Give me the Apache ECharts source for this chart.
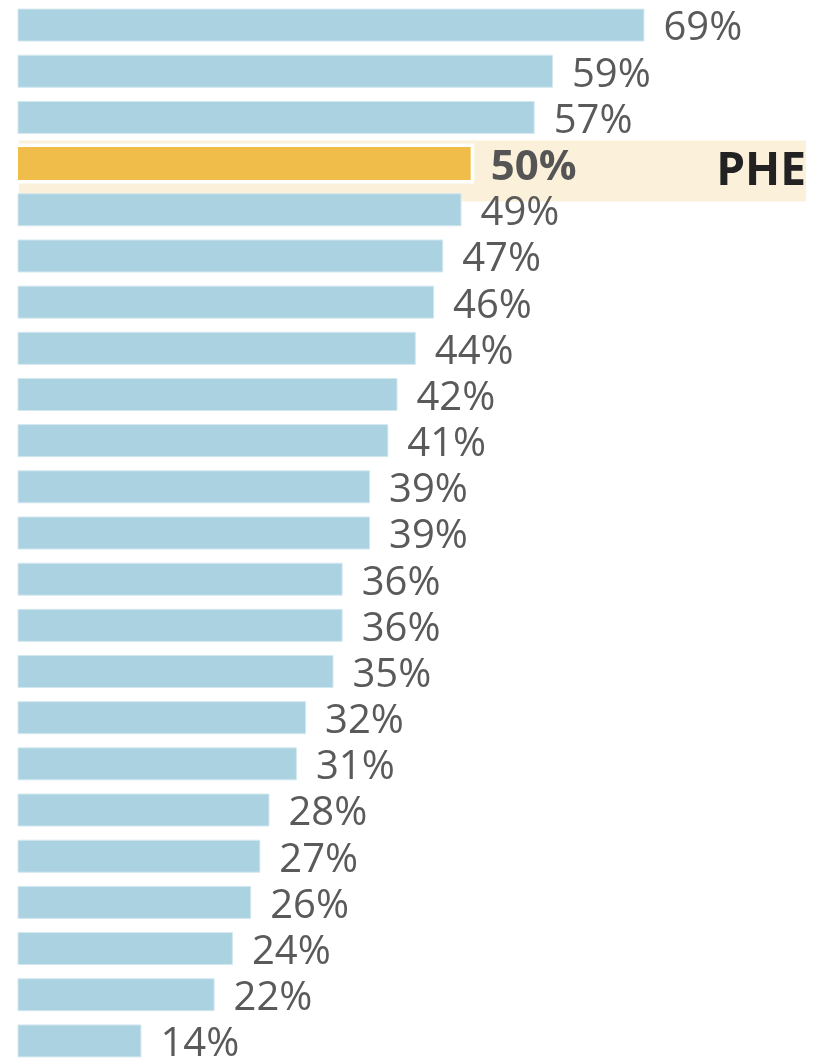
<!DOCTYPE html>
<html lang="en">
<head>
    <meta charset="UTF-8">
    <title>Bar ranking</title>
    <script src="https://cdnjs.cloudflare.com/ajax/libs/echarts/6.0.0/echarts.min.js"></script>
    <style>
        html, body { margin: 0; padding: 0; background: #fff; }
        #main { width: 818px; height: 1064px; }
    </style>
</head>
<body>
    <div id="main"></div>
    <script>
        // data (only PHE is named in the original)
        const categories = ['Org 1', 'Org 2', 'Org 3', 'PHE', 'Org 5', 'Org 6', 'Org 7', 'Org 8',
            'Org 9', 'Org 10', 'Org 11', 'Org 12', 'Org 13', 'Org 14', 'Org 15', 'Org 16',
            'Org 17', 'Org 18', 'Org 19', 'Org 20', 'Org 21', 'Org 22', 'Org 23'];
        const values = [69, 59, 57, 50, 49, 47, 46, 44, 42, 41, 39, 39, 36, 36, 35, 32, 31, 28, 27, 26, 24, 22, 14];
        const highlight = 'PHE';

        const blue = '#abd2e0';
        const orange = '#f0bd4a';
        const beige = '#fbf0da';

        const chart = echarts.init(document.getElementById('main'));

        const seriesData = values.map((v, i) => {
            if (categories[i] !== highlight) return v;
            return {
                value: v,
                itemStyle: { color: orange, borderWidth: 0 },
                label: { fontWeight: 'bold', fontSize: 42, color: '#555', distance: 20, offset: [0, 4] }
            };
        });

        chart.setOption({
            animation: false,
            grid: { left: 18, top: 2, width: 727, height: 1064 },
            xAxis: { type: 'value', min: 0.5, max: 80, show: false },
            yAxis: { type: 'category', data: categories, inverse: true, show: false },
            series: [{
                type: 'bar',
                data: seriesData,
                barWidth: 33,
                clip: true,
                itemStyle: { color: blue, borderColor: '#d3e8f0', borderWidth: 1 },
                label: {
                    show: true,
                    position: 'right',
                    distance: 19,
                    offset: [0, 4],
                    formatter: '{c}%',
                    fontFamily: 'Open Sans',
                    fontSize: 40,
                    color: '#5a5a5a'
                }
            }]
        });

        // highlight band, white halo and name, placed from the chart's own scales
        const yc = chart.convertToPixel({ yAxisIndex: 0 }, highlight);
        const barEnd = chart.convertToPixel({ xAxisIndex: 0 }, values[categories.indexOf(highlight)]);
        chart.setOption({
            graphic: [
                { type: 'rect', z: 0, shape: { x: 19, y: yc - 23, width: 787, height: 61 }, style: { fill: beige } },
                { type: 'rect', z: 1, shape: { x: 18, y: yc - 20, width: barEnd - 18 + 3.5, height: 40 }, style: { fill: '#fff' } },
                {
                    type: 'text', z: 3, x: 806, y: yc + 8,
                    style: { text: highlight, font: 'bold 46px "Open Sans"', fill: '#222', align: 'right', verticalAlign: 'middle' }
                }
            ]
        });
    </script>
</body>
</html>
